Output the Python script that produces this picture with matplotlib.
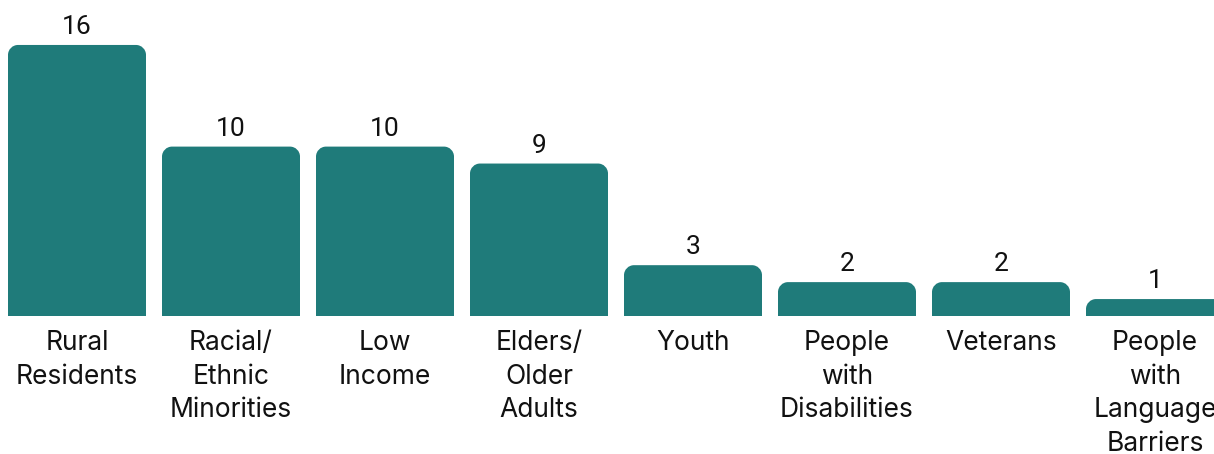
import matplotlib
matplotlib.use("Agg")
import matplotlib.pyplot as plt
from matplotlib.path import Path
from matplotlib.patches import PathPatch

categories = ["Rural\nResidents", "Racial/\nEthnic\nMinorities", "Low\nIncome",
              "Elders/\nOlder\nAdults", "Youth", "People\nwith\nDisabilities",
              "Veterans", "People\nwith\nLanguage\nBarriers"]
values = [16, 10, 10, 9, 3, 2, 2, 1]

W, H = 1214, 454
DPI = 100
fig = plt.figure(figsize=(W / DPI, H / DPI), dpi=DPI)
base_px = 138
ax = fig.add_axes([0, base_px / H, 1, 1 - base_px / H])

pitch = 154.0
px_per_unit = 16.94
xmin = -77 / pitch
xmax = (W - 77) / pitch
ymax = (H - base_px) / px_per_unit
ax.set_xlim(xmin, xmax)
ax.set_ylim(0, ymax)
ax.axis("off")

color = "#1F7B7A"
bars = ax.bar(range(len(values)), values, width=138 / pitch, color=color)

r_px = 10
rx = r_px / pitch
ry = r_px / px_per_unit
k = 0.5523
for b in bars:
    x0 = b.get_x(); x1 = x0 + b.get_width(); h = b.get_height()
    b.set_visible(False)
    ryy = min(ry, h)
    verts = [(x0, 0), (x0, h - ryy),
             (x0, h - ryy + k * ryy), (x0 + rx - k * rx, h), (x0 + rx, h),
             (x1 - rx, h),
             (x1 - rx + k * rx, h), (x1, h - ryy + k * ryy), (x1, h - ryy),
             (x1, 0), (x0, 0)]
    codes = [Path.MOVETO, Path.LINETO,
             Path.CURVE4, Path.CURVE4, Path.CURVE4,
             Path.LINETO,
             Path.CURVE4, Path.CURVE4, Path.CURVE4,
             Path.LINETO, Path.CLOSEPOLY]
    ax.add_patch(PathPatch(Path(verts, codes), facecolor=color, edgecolor="none"))

for i, (c, v) in enumerate(zip(categories, values)):
    ax.annotate(str(v), (i, v), xytext=(0, 6), textcoords="offset pixels",
                ha="center", va="bottom", fontsize=19, family="Roboto",
                color="#111111", annotation_clip=False)
    ax.annotate(c, (i, 0), xytext=(0, -14), textcoords="offset pixels",
                ha="center", va="top", fontsize=19, family="Inter",
                color="#111111", linespacing=1.38, annotation_clip=False)

fig.savefig("out.png", dpi=DPI)
